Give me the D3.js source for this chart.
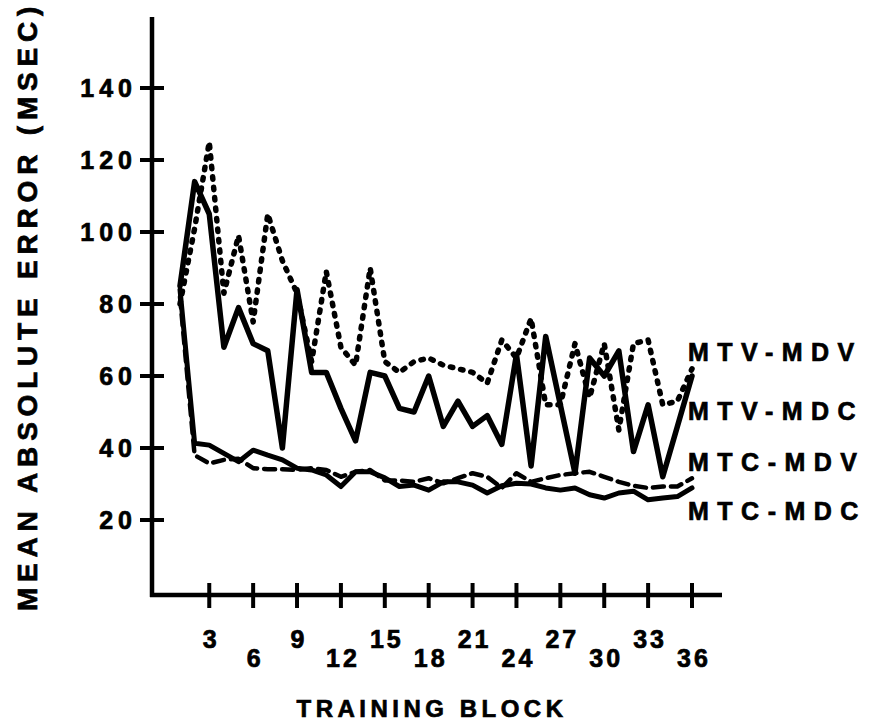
<!DOCTYPE html>
<html lang="en">
<head>
<meta charset="UTF-8">
<title>Mean absolute error by training block</title>
<style>
  body { margin: 0; background: #fff; }
  svg text { font-family: "Liberation Sans", Arial, sans-serif; font-weight: bold; fill: #000; stroke: #000; stroke-width: 0.7px; }
  .series { fill: none; stroke: #000; stroke-linejoin: round; }
</style>
</head>
<body>
<div id="chart"></div>
<script src="https://d3js.org/d3.v7.min.js"></script>
<script>
// training blocks 1..36
var blocks = [1,2,3,4,5,6,7,8,9,10,11,12,13,14,15,16,17,18,19,20,21,22,23,24,25,26,27,28,29,30,31,32,33,34,35,36];
var xTickValues = [3,6,9,12,15,18,21,24,27,30,33,36];
var yTickValues = [20,40,60,80,100,120,140];

var mtvMdv = [80,101,125,83,99,75,105,92,83,64,89,68,63,90,64,61,64,65,63,62,61,58,70,65,76,52,52,69,54,69,45,69,70,52,53,62];
var mtvMdc = [85,114,105,68,79,69,67,40,84,61,61,51,42,61,60,51,50,60,46,53,46,49,41,66,35,71,52,33,65,60,67,39,52,32,46,60];
var mtcMdv = [82,38,35.7,36.7,37,34.4,34.1,34.1,33.9,34.4,33.9,32,33.4,33.9,31,31,30.6,31.6,30.2,31.6,33,32,28.9,33,30.6,31.6,32.5,33,33.4,32,30.6,29.5,28.9,29.3,29.3,31.6];
var mtcMdc = [84,41.3,40.8,38.5,36.2,39.4,38,36.7,34.4,33.9,32.5,29.3,33.4,33.4,31.7,29.3,29.7,28.3,30.6,30.6,29.7,27.5,29.5,30.2,30,28.9,28.3,28.9,27,26.1,27.5,28,25.6,26.1,26.5,28.9];

var width = 871, height = 723;
var svg = d3.select('#chart').append('svg')
  .attr('width', width)
  .attr('height', height);

var x = d3.scaleLinear().domain([1, 36]).range([180, 692]);
var y = d3.scaleLinear().domain([0, 140]).range([592, 88]);

var axisX = 152, axisY = 595;

// axes
svg.append('line').attr('x1', axisX).attr('x2', axisX).attr('y1', 17).attr('y2', axisY + 2)
  .attr('stroke', '#000').attr('stroke-width', 4.5);
svg.append('line').attr('x1', axisX - 2).attr('x2', 722).attr('y1', axisY).attr('y2', axisY)
  .attr('stroke', '#000').attr('stroke-width', 4.5);

// y ticks
svg.selectAll('.ytick').data(yTickValues).enter().append('line')
  .attr('class', 'ytick')
  .attr('x1', axisX - 12).attr('x2', axisX + 12)
  .attr('y1', function(d) { return y(d); }).attr('y2', function(d) { return y(d); })
  .attr('stroke', '#000').attr('stroke-width', 4);
svg.selectAll('.ylab').data(yTickValues).enter().append('text')
  .attr('class', 'ylab')
  .attr('x', 137)
  .attr('y', function(d) { return y(d); })
  .attr('dy', '0.36em')
  .attr('text-anchor', 'end')
  .attr('font-size', 25)
  .attr('letter-spacing', 5)
  .text(function(d) { return d; });

// x ticks
svg.selectAll('.xtick').data(xTickValues).enter().append('line')
  .attr('class', 'xtick')
  .attr('x1', function(d) { return x(d); }).attr('x2', function(d) { return x(d); })
  .attr('y1', axisY - 12).attr('y2', axisY + 13)
  .attr('stroke', '#000').attr('stroke-width', 4);
svg.selectAll('.xlab').data(xTickValues).enter().append('text')
  .attr('class', 'xlab')
  .attr('x', function(d) { return x(d) + 2; })
  .attr('y', function(d, i) { return i % 2 === 0 ? 648 : 667; })
  .attr('text-anchor', 'middle')
  .attr('font-size', 25)
  .attr('letter-spacing', 3)
  .text(function(d) { return d; });

// axis titles
svg.append('text')
  .attr('x', 432).attr('y', 717)
  .attr('text-anchor', 'middle')
  .attr('font-size', 24)
  .attr('letter-spacing', 4.5)
  .text('TRAINING BLOCK');
svg.append('text')
  .attr('transform', 'translate(37,306) rotate(-90)')
  .attr('text-anchor', 'middle')
  .attr('font-size', 28)
  .attr('letter-spacing', 5.8)
  .text('MEAN ABSOLUTE ERROR (MSEC)');

// series
var line = d3.line()
  .x(function(d) { return x(d[0]); })
  .y(function(d) { return y(d[1]); });

function draw(values, width, dash, cap) {
  svg.append('path')
    .attr('class', 'series')
    .attr('d', line(blocks.map(function(b, i) { return [b, values[i]]; })))
    .attr('stroke-width', width)
    .attr('stroke-dasharray', dash)
    .attr('stroke-linecap', cap);
}

draw(mtcMdv, 4.5, '11 7', 'round');
draw(mtcMdc, 5, null, 'round');
draw(mtvMdv, 5.5, '2.5 8', 'round');
draw(mtvMdc, 5.5, null, 'round');

// series labels
var labels = [['MTV-MDV', 361], ['MTV-MDC', 420], ['MTC-MDV', 471], ['MTC-MDC', 520]];
svg.selectAll('.slab').data(labels).enter().append('text')
  .attr('class', 'slab')
  .attr('x', 688)
  .attr('y', function(d) { return d[1]; })
  .attr('font-size', 25)
  .attr('letter-spacing', 8.5)
  .text(function(d) { return d[0]; });
</script>
</body>
</html>
